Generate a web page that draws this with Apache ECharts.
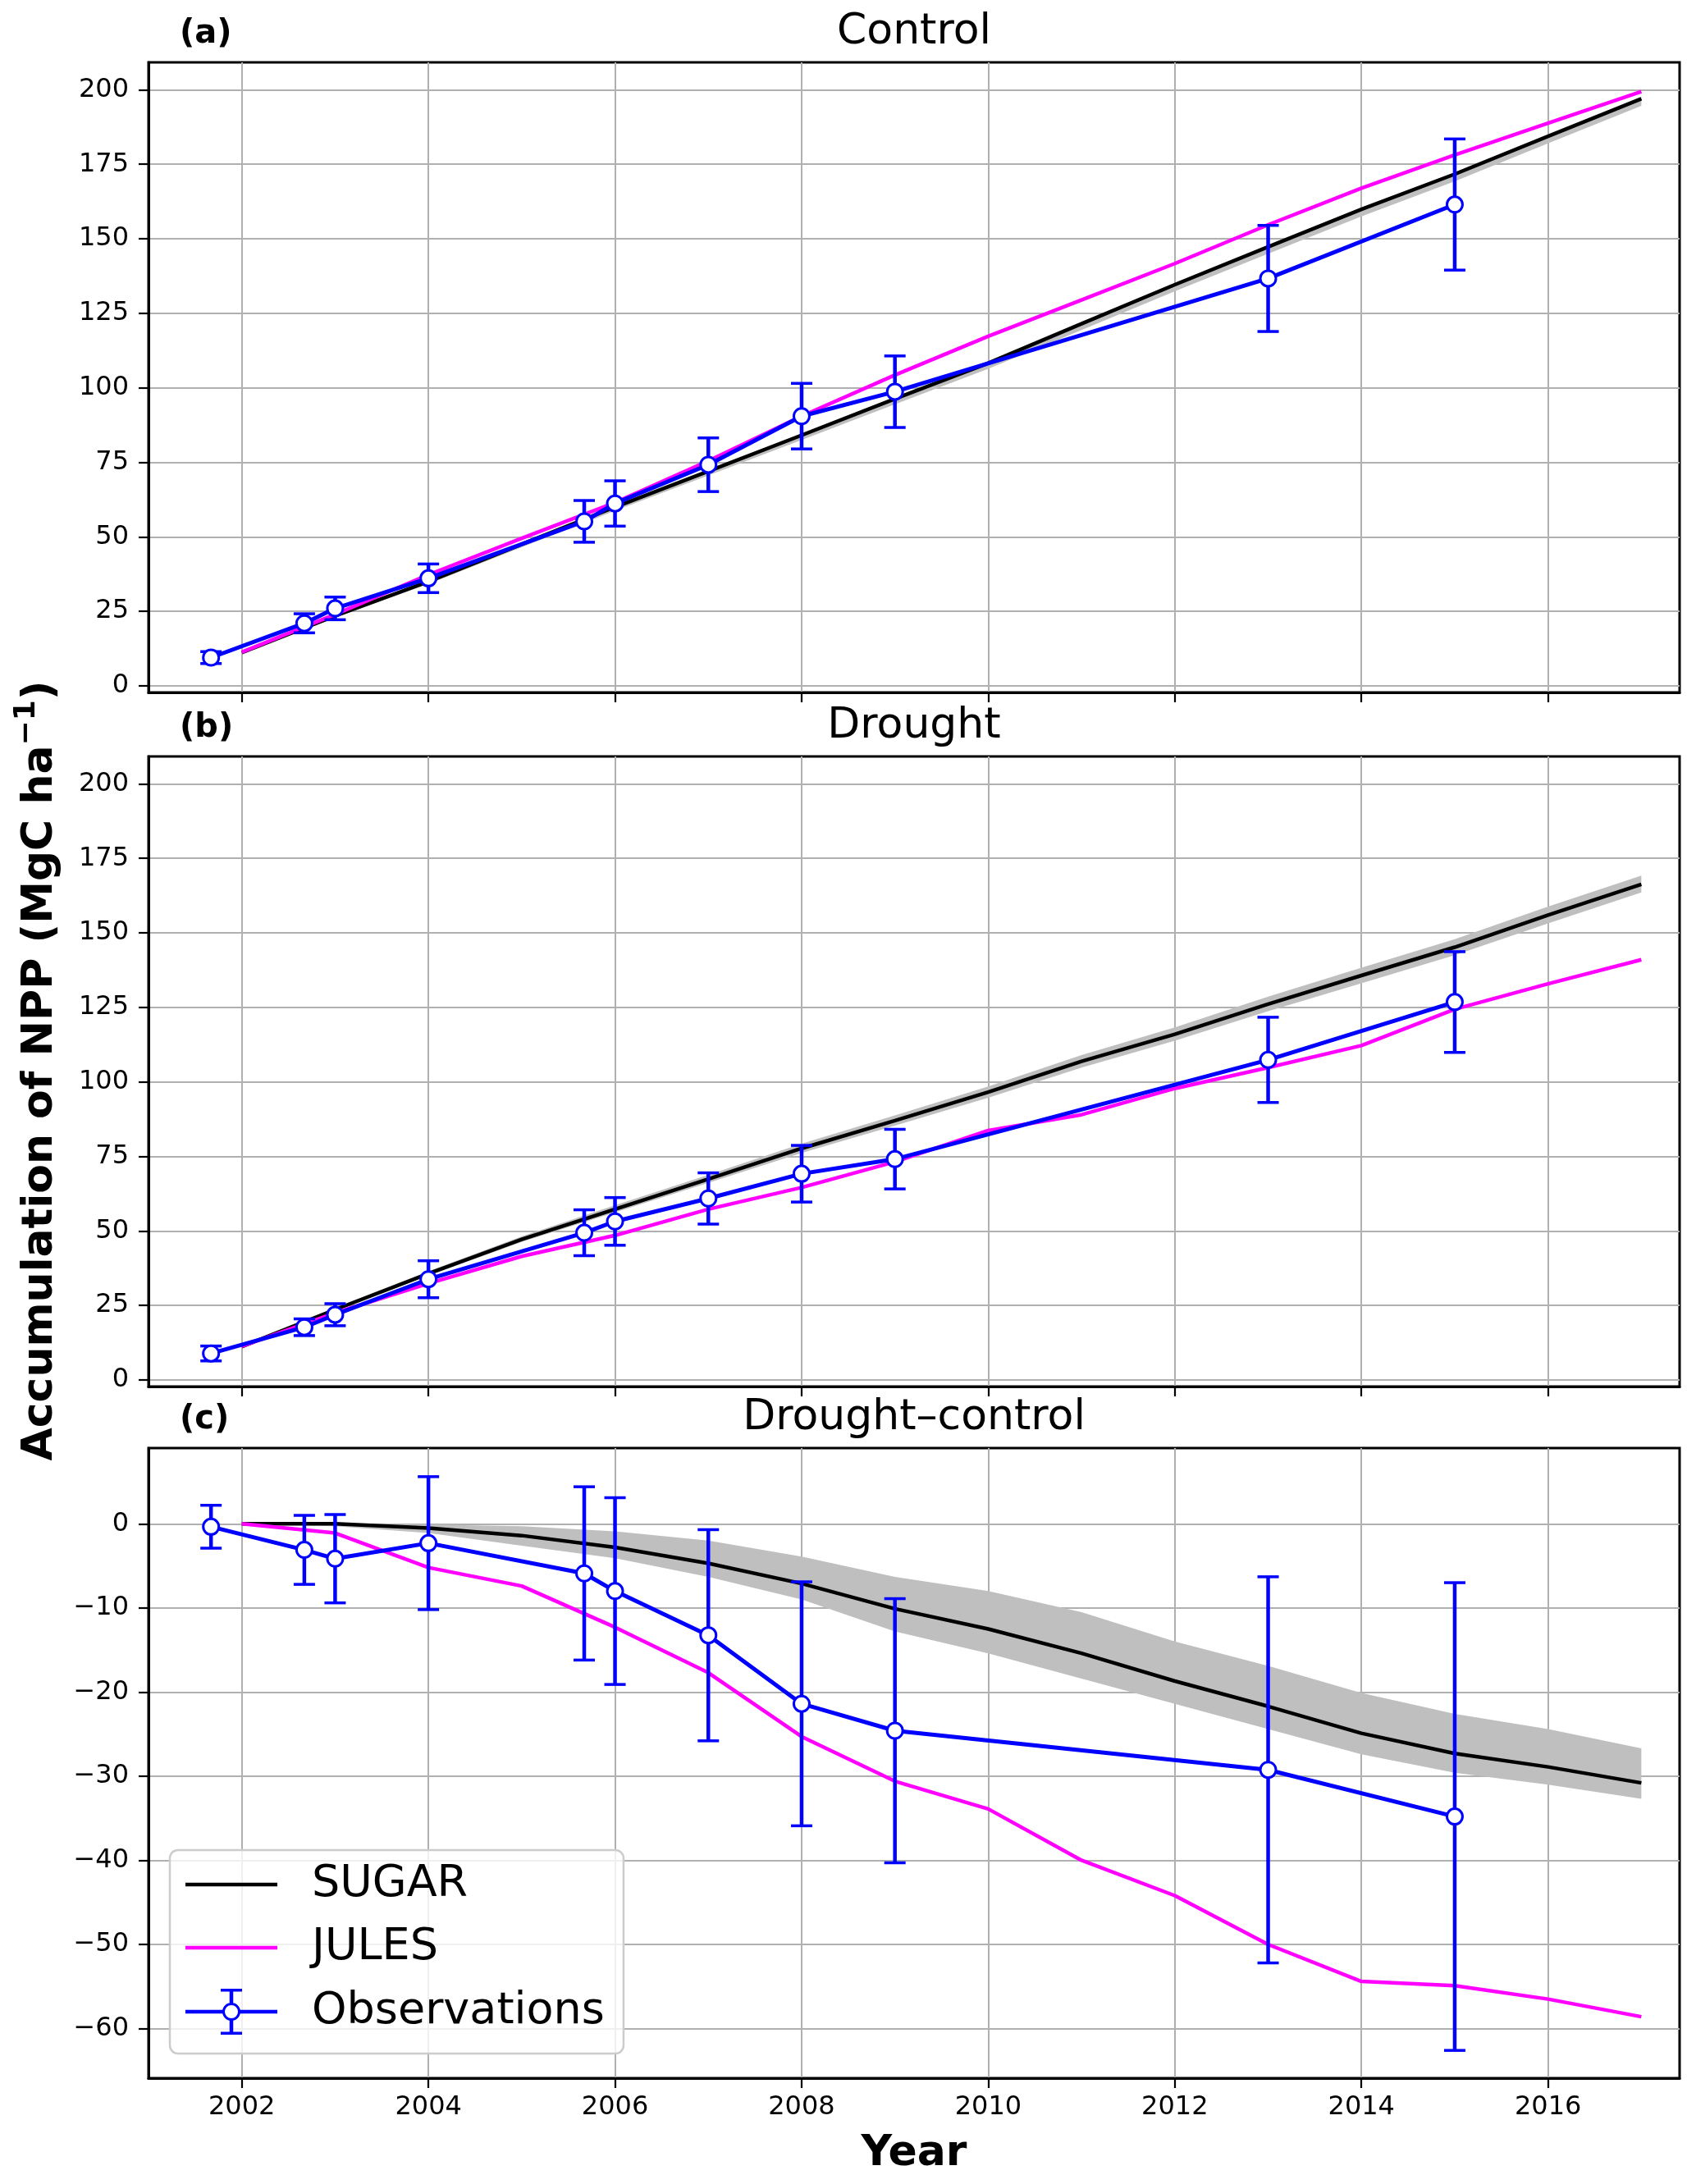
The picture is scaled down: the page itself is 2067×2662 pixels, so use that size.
<!DOCTYPE html>
<html><head><meta charset="utf-8">
<script src="https://cdn.jsdelivr.net/npm/echarts@6/dist/echarts.min.js"></script>
<style>html,body{margin:0;padding:0;background:#fff}#c{width:2067px;height:2662px}</style>
</head><body><div id="c"></div>
<script>
// ---------- data ----------
const modelYears = [2002,2003,2004,2005,2006,2007,2008,2009,2010,2011,2012,2013,2014,2015,2016,2017];
const obsYears = [2001.67,2002.67,2003,2004,2005.67,2006,2007,2008,2009,2013,2015];
const xTicks = [2002,2004,2006,2008,2010,2012,2014,2016];
const yTicksAB = [0,25,50,75,100,125,150,175,200];
const yTicksC = [-60,-50,-40,-30,-20,-10,0];
const panelTitles = ['Control','Drought','Drought\u2013control'];
const panelLetters = ['(a)','(b)','(c)'];

// (a) Control
const sugarCtrl   = [11.2,23.5,35.0,47.5,60.0,72.0,84.1,96.3,108.3,121.5,134.6,147.3,159.9,171.7,184.4,197.0];
const sugarCtrlLo = [10.8,22.9,34.2,46.5,58.8,70.6,82.5,94.5,106.4,119.4,132.4,145.0,157.5,169.3,182.0,194.6];
const sugarCtrlHi = [11.4,23.8,35.4,47.9,60.5,72.5,84.7,96.9,108.9,122.1,135.2,147.9,160.5,172.3,185.0,197.6];
const julesCtrl   = [11.3,24.0,37.3,49.5,61.5,75.5,90.5,104.3,117.3,129.5,141.7,154.7,167.0,178.1,188.8,199.4];
const obsCtrl     = [9.5,21.0,26.0,36.1,55.2,61.2,74.2,90.5,98.7,136.7,161.5];
const obsCtrlErr  = [2.0,3.2,3.8,4.8,7.0,7.6,9.0,11.0,12.0,17.8,22.0];

// (b) Drought
const sugarDrt    = [11.2,23.6,35.7,47.2,57.3,67.4,77.7,87.0,96.6,106.9,116.0,126.1,135.7,145.2,156.0,166.3];
const sugarDrtLo  = [11.0,23.2,35.0,46.3,56.2,66.1,76.2,85.3,94.7,104.8,113.8,123.7,133.1,142.5,153.2,163.6];
const sugarDrtHi  = [11.5,24.2,36.5,48.2,58.6,68.8,79.3,88.8,98.5,109.0,118.3,128.6,138.3,147.9,158.8,169.2];
const julesDrt    = [11.3,22.5,32.4,41.5,48.5,57.3,64.6,73.2,83.7,89.0,97.8,104.8,112.2,124.4,132.9,141.0];
const obsDrt      = [8.9,17.7,21.9,33.8,49.4,53.2,60.9,69.2,74.1,107.4,126.8];
const obsDrtErr   = [2.5,2.8,3.7,6.2,7.7,8.0,8.6,9.5,10.0,14.3,16.9];

// (c) Drought - control
const sugarDiff   = [0,0.0,-0.5,-1.4,-2.8,-4.7,-7.1,-10.1,-12.5,-15.4,-18.7,-21.7,-24.9,-27.3,-28.9,-30.8];
const sugarDiffLo = [0,-0.3,-1.1,-2.6,-4.1,-6.3,-9.0,-12.8,-15.4,-18.4,-21.4,-24.4,-27.4,-29.6,-31.0,-32.7];
const sugarDiffHi = [0,0,-0.1,-0.3,-0.9,-2.0,-3.9,-6.3,-8.0,-10.5,-14.0,-16.9,-20.1,-22.6,-24.4,-26.7];
const julesDiff   = [0,-1.1,-5.2,-7.4,-12.3,-17.7,-25.3,-30.6,-33.9,-40.0,-44.2,-50.0,-54.4,-54.9,-56.5,-58.6];
const obsDiff     = [-0.35,-3.1,-4.15,-2.3,-5.9,-8.0,-13.25,-21.4,-24.6,-29.25,-34.8];
const obsDiffErr  = [2.55,4.1,5.25,7.9,10.3,11.1,12.55,14.5,15.7,22.95,27.8];

// ---------- layout ----------
const FONT = 'DejaVu Sans';
const gridLeft = 181, gridRight = 20;
const panelTops = [76, 922, 1765];
const panelH = 768;
const yRanges = [[-2.2, 209.2], [-2.2, 209.2], [-65.9, 9.0]];
const BLUE = '#0000ff', MAG = '#ff00ff';

const fmtY = v => (v < 0 ? '\u2212' + (-v) : String(v));

const grids = panelTops.map(t => ({left: gridLeft, right: gridRight, top: t, height: panelH,
  show: true, borderColor: '#000', borderWidth: 3, backgroundColor: 'transparent'}));

const xAxes = [0,1,2].map(i => ({
  type: 'value', gridIndex: i, min: 2001.0, max: 2017.41,
  axisLine: {show: true, onZero: false, lineStyle: {color: '#000', width: 3}},
  axisTick: {show: true, length: 12, lineStyle: {color: '#000', width: 2.2}, customValues: xTicks},
  axisLabel: {show: i === 2, customValues: xTicks, margin: 20, fontFamily: FONT, fontSize: 32, color: '#000',
    formatter: v => String(Math.round(v))},
  splitLine: {show: true, lineStyle: {color: '#b0b0b0', width: 2}}
}));

const yAxes = [0,1,2].map(i => {
  const ticks = i === 2 ? yTicksC : yTicksAB;
  return {
    type: 'value', gridIndex: i, min: yRanges[i][0], max: yRanges[i][1],
    axisLine: {show: true, onZero: false, lineStyle: {color: '#000', width: 3}},
    axisTick: {show: true, length: 12, lineStyle: {color: '#000', width: 2.2}, customValues: ticks},
    axisLabel: {customValues: ticks, margin: 24, fontFamily: FONT, fontSize: 32, color: '#000', formatter: fmtY},
    splitLine: {show: true, lineStyle: {color: '#b0b0b0', width: 2}}
  };
});

function bandSeries(idx, lo, hi) {
  return {
    type: 'custom', xAxisIndex: idx, yAxisIndex: idx, z: 1, silent: true,
    data: modelYears.map((x, i) => [x, lo[i], hi[i]]),
    encode: {x: 0, y: [1, 2]},
    renderItem: (params, api) => {
      if (params.dataIndex !== 0) return null;
      const pts = [];
      for (let i = 0; i < modelYears.length; i++) pts.push(api.coord([modelYears[i], hi[i]]));
      for (let i = modelYears.length - 1; i >= 0; i--) pts.push(api.coord([modelYears[i], lo[i]]));
      return {type: 'polygon', shape: {points: pts}, style: {fill: '#bfbfbf'}};
    }
  };
}

function lineSeries(idx, name, vals, color) {
  return {
    type: 'line', name: name, xAxisIndex: idx, yAxisIndex: idx, z: name === 'SUGAR' ? 2 : 3, silent: true,
    data: modelYears.map((x, i) => [x, vals[i]]),
    symbol: 'none', showSymbol: false,
    lineStyle: {color: color, width: 4.5}, itemStyle: {color: color}
  };
}

function errSeries(idx, vals, errs) {
  return {
    type: 'custom', xAxisIndex: idx, yAxisIndex: idx, z: 4, silent: true,
    data: obsYears.map((x, i) => [x, vals[i] - errs[i], vals[i] + errs[i]]),
    encode: {x: 0, y: [1, 2]},
    renderItem: (params, api) => {
      const lo = api.coord([api.value(0), api.value(1)]);
      const hi = api.coord([api.value(0), api.value(2)]);
      const cw = 13;
      return {type: 'group', children: [
        {type: 'line', shape: {x1: lo[0], y1: lo[1], x2: hi[0], y2: hi[1]}, style: {stroke: BLUE, lineWidth: 4.5}},
        {type: 'line', shape: {x1: lo[0] - cw, y1: lo[1], x2: lo[0] + cw, y2: lo[1]}, style: {stroke: BLUE, lineWidth: 3.5}},
        {type: 'line', shape: {x1: hi[0] - cw, y1: hi[1], x2: hi[0] + cw, y2: hi[1]}, style: {stroke: BLUE, lineWidth: 3.5}}
      ]};
    }
  };
}

function obsSeries(idx, vals) {
  return {
    type: 'line', name: 'Observations', xAxisIndex: idx, yAxisIndex: idx, z: 5, silent: true,
    data: obsYears.map((x, i) => [x, vals[i]]),
    symbol: 'circle', symbolSize: 19, showSymbol: true,
    lineStyle: {color: BLUE, width: 5},
    itemStyle: {color: '#ffffff', borderColor: BLUE, borderWidth: 3}
  };
}

const panels = [
  [sugarCtrl, sugarCtrlLo, sugarCtrlHi, julesCtrl, obsCtrl, obsCtrlErr],
  [sugarDrt, sugarDrtLo, sugarDrtHi, julesDrt, obsDrt, obsDrtErr],
  [sugarDiff, sugarDiffLo, sugarDiffHi, julesDiff, obsDiff, obsDiffErr]
];

const series = [];
panels.forEach((p, i) => {
  series.push(bandSeries(i, p[1], p[2]));
  series.push(lineSeries(i, 'SUGAR', p[0], '#000000'));
  series.push(lineSeries(i, 'JULES', p[3], MAG));
  series.push(errSeries(i, p[4], p[5]));
  series.push(obsSeries(i, p[4]));
});

const obsIcon = 'path://M0,25.75L45.5,25.75L45.5,30.25L0,30.25Z' +
  'M66.5,25.75L112,25.75L112,30.25L66.5,30.25Z' +
  'M53.75,0L58.25,0L58.25,17.5L53.75,17.5Z' +
  'M53.75,38.5L58.25,38.5L58.25,56L53.75,56Z' +
  'M43,0L69,0L69,3.5L43,3.5Z' +
  'M43,52.5L69,52.5L69,56L43,56Z' +
  'M45,28A11,11 0 1,1 67,28A11,11 0 1,1 45,28Z' +
  'M48,28A8,8 0 1,0 64,28A8,8 0 1,0 48,28Z';
const lineIcon = 'path://M0,0L112,0L112,4.5L0,4.5Z';

const graphics = [];
panelTops.forEach((t, i) => {
  graphics.push({type: 'text', x: gridLeft + (2067 - gridLeft - gridRight) / 2, y: t - 37, z: 50,
    style: {text: panelTitles[i], font: '52px "DejaVu Sans"', fill: '#000', align: 'center', verticalAlign: 'middle'}});
  graphics.push({type: 'text', x: 219, y: t - 34, z: 50,
    style: {text: panelLetters[i], font: 'bold 40px "DejaVu Sans"', fill: '#000', align: 'left', verticalAlign: 'middle'}});
});
graphics.push({type: 'text', x: 1114, y: 2625, z: 50,
  style: {text: 'Year', font: 'bold 52px "DejaVu Sans"', fill: '#000', align: 'center', verticalAlign: 'middle'}});
graphics.push({type: 'text', x: 45, y: 1305, rotation: Math.PI / 2, z: 50,
  style: {text: '{m|Accumulation of NPP (MgC ha}{s|\u22121}{m|)}', align: 'center', verticalAlign: 'middle', fill: '#000',
    rich: {
      m: {fontFamily: FONT, fontWeight: 'bold', fontSize: 52, fill: '#000', verticalAlign: 'bottom', lineHeight: 60},
      s: {fontFamily: FONT, fontWeight: 'bold', fontSize: 36, fill: '#000', verticalAlign: 'top', lineHeight: 40}
    }}});

const option = {
  backgroundColor: '#ffffff',
  animation: false,
  grid: grids,
  xAxis: xAxes,
  yAxis: yAxes,
  series: series,
  legend: {
    left: 207, top: 2255, orient: 'vertical', z: 20, selectedMode: false,
    padding: [15, 23, 23, 19],
    itemWidth: 112, itemHeight: 56, itemGap: 23,
    backgroundColor: 'rgba(255,255,255,0.8)', borderColor: '#cccccc', borderWidth: 2.5, borderRadius: 10,
    textStyle: {fontFamily: FONT, fontSize: 54, color: '#000', padding: [0, 0, 0, 37]},
    data: [
      {name: 'SUGAR', icon: lineIcon, itemStyle: {color: '#000000', borderWidth: 0}},
      {name: 'JULES', icon: lineIcon, itemStyle: {color: MAG, borderWidth: 0}},
      {name: 'Observations', icon: obsIcon, itemStyle: {color: BLUE, borderWidth: 0}}
    ]
  },
  graphic: graphics
};

const chart = echarts.init(document.getElementById('c'), null, {renderer: 'canvas'});
chart.setOption(option);
</script>
</body></html>
